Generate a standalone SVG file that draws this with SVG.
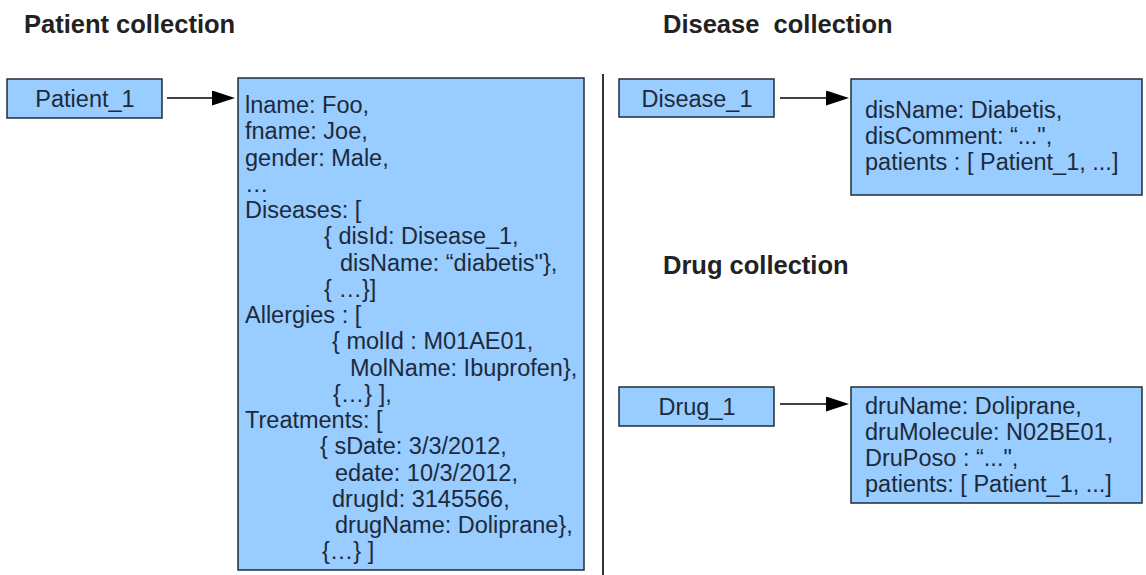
<svg xmlns="http://www.w3.org/2000/svg" width="1146" height="575" viewBox="0 0 1146 575">
<style>
.title{font-family:"Liberation Sans",Arial,sans-serif;font-weight:bold;font-size:25.5px;fill:#222}
.box{fill:#99ccff;stroke:#1f2d3d;stroke-width:1.5}
.t{font-family:"Liberation Sans",Arial,sans-serif;font-size:23.5px;fill:#1c2a3c}
.c{text-anchor:middle}
.conn{stroke:#000;stroke-width:1.6;fill:none}
</style>
<defs>
<marker id="ah" markerUnits="userSpaceOnUse" markerWidth="24" markerHeight="16" refX="0" refY="7.5" orient="auto">
<path d="M0,0 L23,7.5 L0,15 Z" fill="#000"/>
</marker>
</defs>
<rect width="1146" height="575" fill="#fff"/>
<text class="title" x="24" y="33">Patient collection</text>
<text class="title" x="663" y="33" xml:space="preserve">Disease  collection</text>
<text class="title" x="663" y="274">Drug collection</text>
<line x1="603" y1="74" x2="603" y2="575" stroke="#000" stroke-width="1.6"/>

<g id="connectors">
<line class="conn" x1="167" y1="98" x2="212" y2="98" marker-end="url(#ah)"/>
<line class="conn" x1="780" y1="98" x2="826" y2="98" marker-end="url(#ah)"/>
<line class="conn" x1="780" y1="404" x2="826" y2="404" marker-end="url(#ah)"/>
</g>

<g id="patient1">
<rect class="box" x="7" y="79" width="155" height="39"/>
<text class="t c" x="85" y="107">Patient_1</text>
</g>

<g id="patientDoc">
<rect class="box" x="238" y="78" width="346" height="492"/>
<text class="t" x="245" y="113">lname: Foo,</text>
<text class="t" x="245" y="139">fname: Joe,</text>
<text class="t" x="245" y="165.5">gender: Male,</text>
<text class="t" x="245" y="192">…</text>
<text class="t" x="245" y="218">Diseases: [</text>
<text class="t" x="324" y="244">{ disId: Disease_1,</text>
<text class="t" x="340" y="270.5">disName: “diabetis"},</text>
<text class="t" x="324" y="297">{ …}]</text>
<text class="t" x="245" y="323">Allergies : [</text>
<text class="t" x="332" y="349">{ molId : M01AE01,</text>
<text class="t" x="350" y="375.5">MolName: Ibuprofen},</text>
<text class="t" x="333" y="402">{…} ],</text>
<text class="t" x="245" y="428">Treatments: [</text>
<text class="t" x="320" y="454">{ sDate: 3/3/2012,</text>
<text class="t" x="335" y="480.5">edate: 10/3/2012,</text>
<text class="t" x="332" y="507">drugId: 3145566,</text>
<text class="t" x="335" y="533">drugName: Doliprane},</text>
<text class="t" x="322" y="559">{…} ]</text>
</g>

<g id="disease1">
<rect class="box" x="619" y="79" width="155" height="38"/>
<text class="t c" x="697" y="107">Disease_1</text>
</g>

<g id="diseaseDoc">
<rect class="box" x="851" y="79" width="291" height="116"/>
<text class="t" x="865" y="118">disName: Diabetis,</text>
<text class="t" x="865" y="144">disComment: “...",</text>
<text class="t" x="865" y="170">patients : [ Patient_1, ...]</text>
</g>

<g id="drug1">
<rect class="box" x="619" y="387" width="155" height="39"/>
<text class="t c" x="697" y="415">Drug_1</text>
</g>

<g id="drugDoc">
<rect class="box" x="851" y="387" width="291" height="116"/>
<text class="t" x="865" y="414">druName: Doliprane,</text>
<text class="t" x="865" y="440">druMolecule: N02BE01,</text>
<text class="t" x="865" y="466">DruPoso : “...",</text>
<text class="t" x="865" y="492">patients: [ Patient_1, ...]</text>
</g>
</svg>
